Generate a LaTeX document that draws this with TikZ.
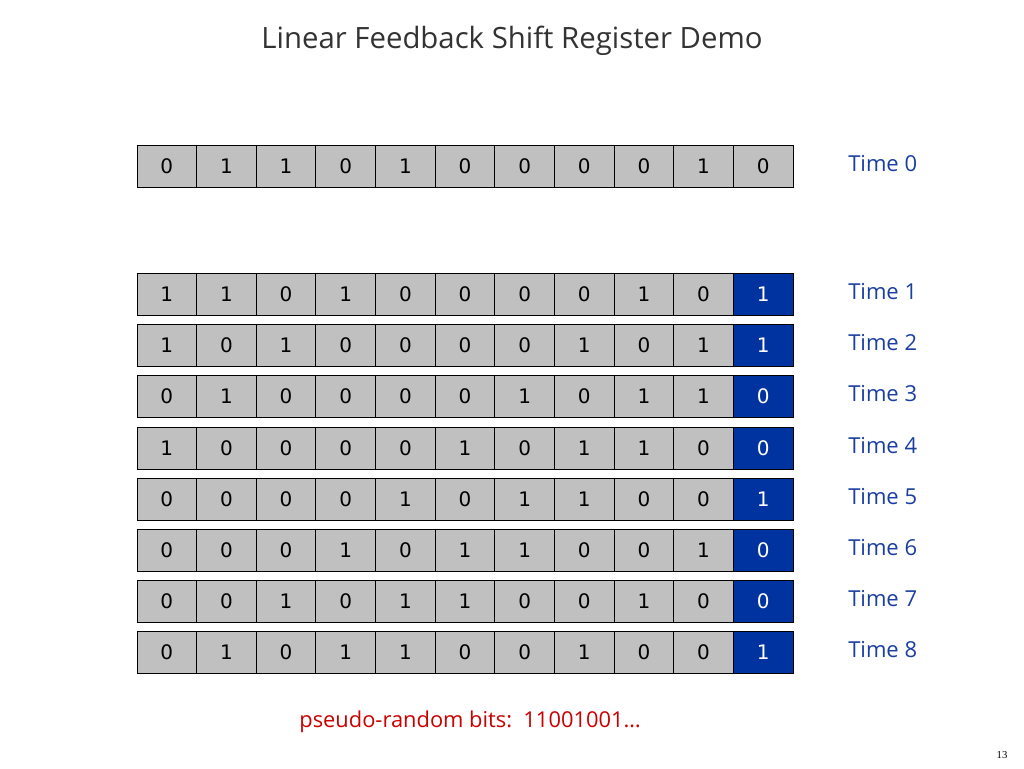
\documentclass[tikz,border=0pt]{standalone}
\usepackage{fontspec}
\setmainfont{Open Sans}
\newfontfamily\numfont{Liberation Serif}
\newfontfamily\bitfont{DejaVu Sans}
\definecolor{cellgray}{HTML}{C0C0C0}
\definecolor{bitblue}{HTML}{0033A0}
\definecolor{labelblue}{HTML}{1A3FA0}
\definecolor{bitred}{HTML}{CC0000}
\tikzset{
	cell/.style={draw,line width=0.75pt,fill=cellgray,inner sep=0pt,minimum width=44.73pt,minimum height=31.5pt,font=\bitfont\fontsize{15}{16}\selectfont},
	newbit/.style={cell,fill=bitblue,text=white},
	timelabel/.style={anchor=west,inner sep=0pt,text=labelblue,font=\fontsize{16.5}{17}\selectfont}
}
\begin{document}
\begin{tikzpicture}[x=0.75pt,y=-0.75pt]
		\useasboundingbox (0,0) rectangle (1024,768);
		\node[font=\fontsize{22}{24}\selectfont,text=black!80] (title) at (512,41) {Linear Feedback Shift Register Demo};
		\foreach \r/\y/\s/\last/\bits in
		{
		0/166/cell/0/{0,1,1,0,1,0,0,0,0,1},
		1/294/newbit/1/{1,1,0,1,0,0,0,0,1,0},
		2/345/newbit/1/{1,0,1,0,0,0,0,1,0,1},
		3/396/newbit/0/{0,1,0,0,0,0,1,0,1,1},
		4/448/newbit/0/{1,0,0,0,0,1,0,1,1,0},
		5/499/newbit/1/{0,0,0,0,1,0,1,1,0,0},
		6/550/newbit/0/{0,0,0,1,0,1,1,0,0,1},
		7/601/newbit/0/{0,0,1,0,1,1,0,0,1,0},
		8/652/newbit/1/{0,1,0,1,1,0,0,1,0,0}}
		{
		\foreach \b [count=\i] in \bits
		\node[cell] (c-\r-\i) at (137+\i*59.64-29.82,\y) {\b};
		\node[\s] (c-\r-11) at (763.18,\y) {\last};
		\node[timelabel] (t-\r) at (848,\y-2) {Time \r};
		}
		\node[text=bitred,font=\fontsize{16.4}{17}\selectfont] (bits) at (470,722) {pseudo-random bits:\ \ 11001001\ldots};
		\node[font=\numfont\fontsize{8}{8}\selectfont] (page) at (1002,755) {13};
	\end{tikzpicture}
\end{document}
